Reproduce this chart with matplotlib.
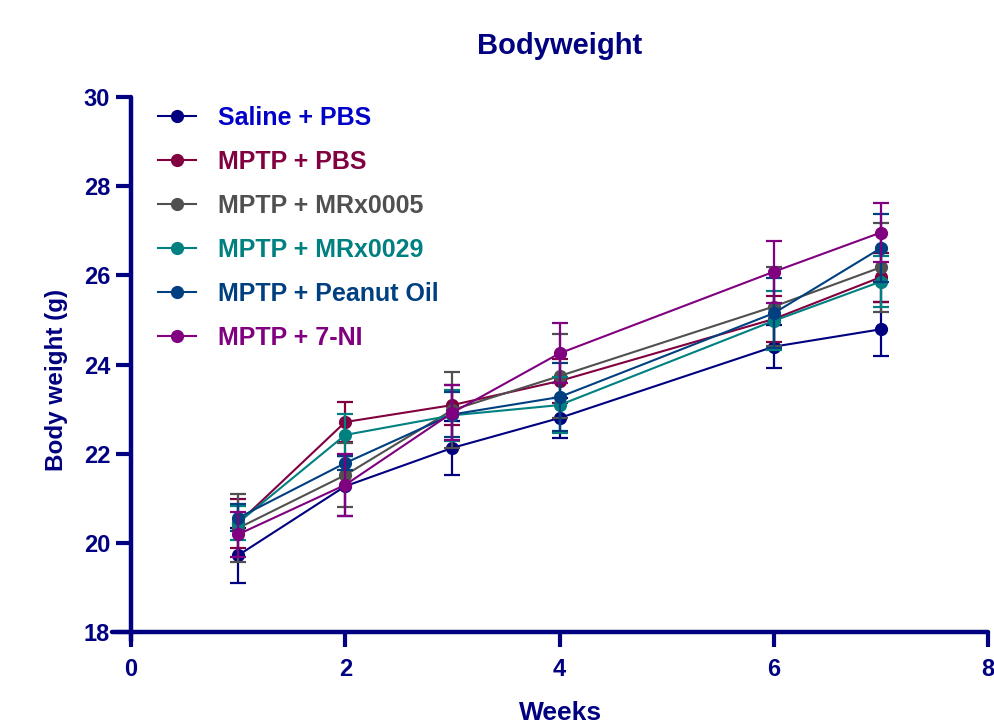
import matplotlib
matplotlib.use("Agg")
from matplotlib import pyplot as plt

plt.rcParams['font.family'] = ['Liberation Sans', 'DejaVu Sans']
plt.rcParams['font.weight'] = 'bold'

weeks = [1, 2, 3, 4, 6, 7]

group_names = ["Saline + PBS", "MPTP + PBS", "MPTP + MRx0005",
               "MPTP + MRx0029", "MPTP + Peanut Oil", "MPTP + 7-NI"]

saline_pbs = [19.72, 21.27, 22.13, 22.80, 24.40, 24.79]
saline_pbs_sem = [0.61, 0.67, 0.60, 0.45, 0.48, 0.61]
mptp_pbs = [20.44, 22.71, 23.09, 23.63, 25.02, 25.96]
mptp_pbs_sem = [0.55, 0.45, 0.45, 0.50, 0.52, 0.55]
mptp_mrx0005 = [20.33, 21.52, 22.98, 23.74, 25.30, 26.18]
mptp_mrx0005_sem = [0.77, 0.72, 0.85, 0.94, 0.89, 1.00]
mptp_mrx0029 = [20.45, 22.42, 22.86, 23.09, 24.98, 25.86]
mptp_mrx0029_sem = [0.38, 0.48, 0.57, 0.63, 0.66, 0.57]
mptp_peanut = [20.56, 21.79, 22.88, 23.27, 25.15, 26.61]
mptp_peanut_sem = [0.30, 0.16, 0.50, 0.76, 0.79, 0.77]
mptp_7ni = [20.19, 21.30, 22.92, 24.25, 26.08, 26.96]
mptp_7ni_sem = [0.50, 0.70, 0.62, 0.67, 0.70, 0.67]

means = [saline_pbs, mptp_pbs, mptp_mrx0005, mptp_mrx0029, mptp_peanut, mptp_7ni]
sems = [saline_pbs_sem, mptp_pbs_sem, mptp_mrx0005_sem, mptp_mrx0029_sem,
        mptp_peanut_sem, mptp_7ni_sem]
line_colors = ["#000080", "#800040", "#505050", "#008080", "#004080", "#800080"]
text_colors = ["#0000c8", "#800040", "#505050", "#008080", "#004080", "#800080"]

navy = "#000080"

fig = plt.figure(figsize=(9.95, 7.28), dpi=100)
# axes placed in pixels: x -0.18..8 -> 112..988 px, y 17.8..30 -> 641..97 px
x_lo, x_hi = -0.18, 8.0
y_lo, y_hi = 17.8, 30.0
px_x0 = 131 + x_lo * 107.1
px_x1 = 988
px_y0 = 632 + (18 - y_lo) * 44.6
px_y1 = 97
ax = fig.add_axes([px_x0 / 995, 1 - px_y0 / 728,
                   (px_x1 - px_x0) / 995, (px_y0 - px_y1) / 728])

for name, m, e, c in zip(group_names, means, sems, line_colors):
    ax.errorbar(weeks, m, yerr=e, fmt='none', ecolor=c, elinewidth=1.6,
                capsize=5.5, capthick=1.6, clip_on=False)
    ax.plot(weeks, m, color=c, lw=1.5, marker='o', ms=8.5, label=name,
            clip_on=False)

ax.set_xlim(x_lo, x_hi)
ax.set_ylim(y_lo, y_hi)
ax.set_xticks([0, 2, 4, 6, 8])
ax.set_yticks([18, 20, 22, 24, 26, 28, 30])

for side in ["top", "right"]:
    ax.spines[side].set_visible(False)
ax.spines["left"].set_position(("data", 0))
ax.spines["bottom"].set_position(("data", 18))
for side in ["left", "bottom"]:
    ax.spines[side].set_linewidth(3.2)
    ax.spines[side].set_color(navy)
    ax.spines[side].set_capstyle("round")

ax.tick_params(axis="both", colors=navy, width=3, length=11,
               labelsize=17)
ax.tick_params(axis="x", pad=8)
ax.tick_params(axis="y", pad=4)
for lbl in ax.get_xticklabels() + ax.get_yticklabels():
    lbl.set_fontweight("bold")

fig.text(561 / 995, 1 - 713 / 728, "Weeks", ha="center", va="center",
         fontsize=19, color=navy, fontweight="bold")
fig.text(57 / 995, 1 - 380 / 728, "Body weight (g)", ha="center",
         va="center", rotation=90, fontsize=17.5, color=navy,
         fontweight="bold")
fig.text(560 / 995, 1 - 46 / 728, "Bodyweight", ha="center", va="center",
         fontsize=21, color=navy, fontweight="bold")

leg = ax.legend(loc="upper left", bbox_to_anchor=(158 / 995, 1 - 106 / 728),
                bbox_transform=fig.transFigure, frameon=False, numpoints=1,
                borderaxespad=0, borderpad=0, handlelength=1.52,
                handletextpad=0.88, labelspacing=0.8,
                prop={"size": 18, "weight": "bold"},
                labelcolor=text_colors)

fig.savefig("out.png", dpi=100)
